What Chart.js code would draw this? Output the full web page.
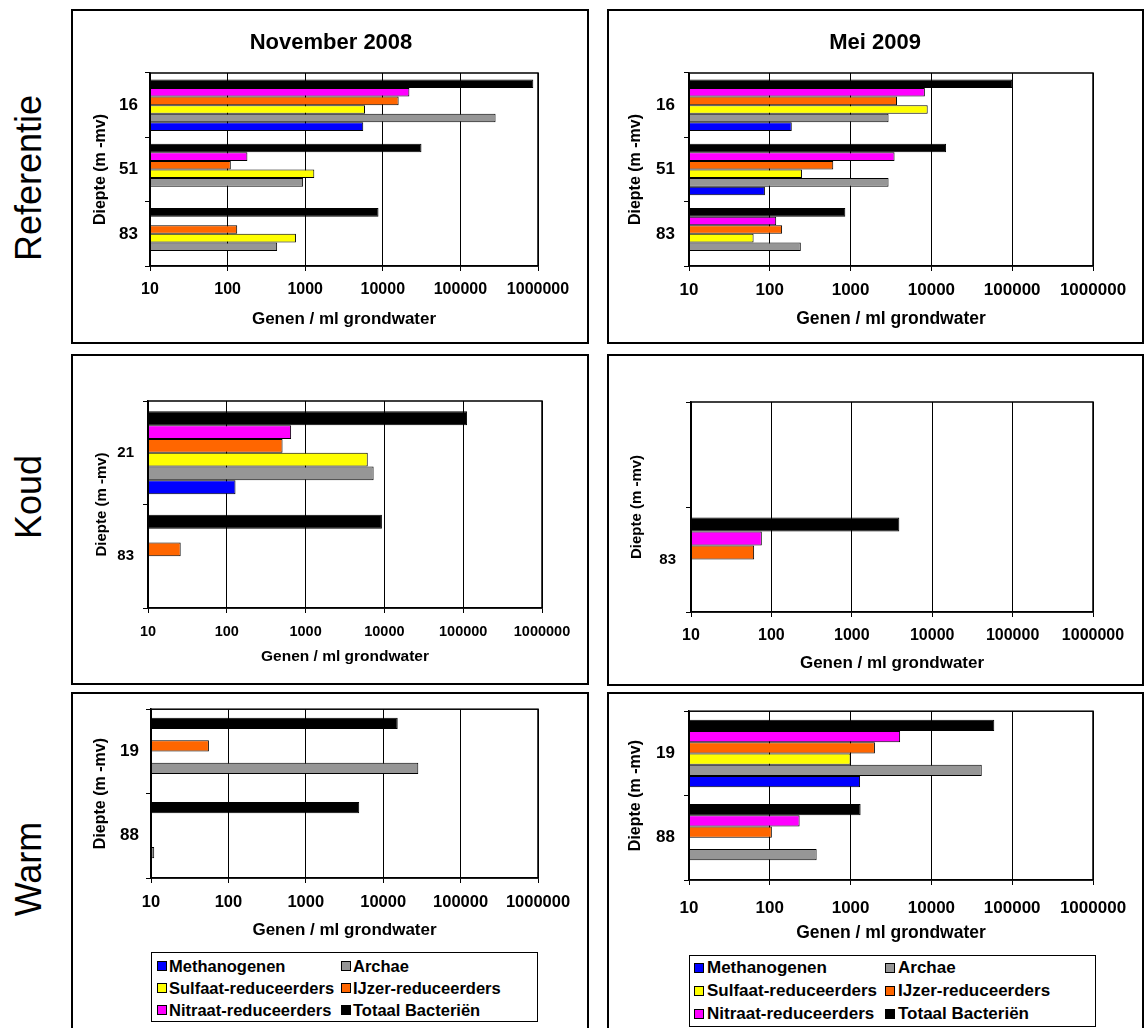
<!DOCTYPE html>
<html>
<head>
<meta charset="utf-8">
<script src="https://cdn.jsdelivr.net/npm/chart.js@4.4.1/dist/chart.umd.min.js"></script>
<style>
  html, body { margin: 0; padding: 0; background: #fff; }
  body { width: 1144px; height: 1028px; position: relative; overflow: hidden;
         font-family: "Liberation Sans", Arial, sans-serif; color: #000; }
  .frame { position: absolute; border: 2px solid #000; box-sizing: border-box; background: #fff; }
  canvas { position: absolute; }
  .title { position: absolute; font-weight: bold; font-size: 22px; white-space: nowrap;
           transform: translate(-50%, -50%); }
  .row { position: absolute; font-size: 36px; white-space: nowrap;
         transform: translate(-50%, -50%) rotate(-90deg); }
  .legend { position: absolute; border: 1px solid #000; box-sizing: border-box; background: #fff; }
  .item { position: absolute; font-weight: bold; white-space: nowrap; transform: translateY(-50%); }
  .sw { position: absolute; width: 10px; height: 10px; border: 1px solid #000; box-sizing: border-box;
        transform: translateY(-50%); }
</style>
</head>
<body>
<script>
// Series, in legend order
const seriesNames = ['Methanogenen', 'Archae', 'Sulfaat-reduceerders', 'IJzer-reduceerders', 'Nitraat-reduceerders', 'Totaal Bacteriën'];
const seriesColors = ['#0000FF', '#969696', '#FFFF00', '#FF6600', '#FF00FF', '#000000'];
const decadeTicks = [10, 100, 1000, 10000, 100000, 1000000];

// Genen / ml grondwater per diepte, values in legend order (null = not measured)
// Referentie, november 2008
const refNovDepths = ['16', '51', '83'];
const refNov16 = [5600, 284000, 5900, 16000, 22000, 870000];
const refNov51 = [null, 940, 1310, 110, 180, 31500];
const refNov83 = [null, 435, 760, 133, null, 8800];

// Referentie, mei 2009
const refMeiDepths = ['16', '51', '83'];
const refMei16 = [187, 2950, 9000, 3750, 8300, 100000];
const refMei51 = [87, 2950, 250, 610, 3500, 15200];
const refMei83 = [null, 242, 63, 142, 120, 860];

// Koud, november 2008
const koudNovDepths = ['21', '83'];
const koudNov21 = [129, 7300, 6150, 510, 655, 112000];
const koudNov83 = [null, null, null, 26, null, 9300];

// Koud, mei 2009
const koudMeiDepths = ['', '83'];
const koudMeiTop = [null, null, null, null, null, null];
const koudMei83 = [null, null, null, 61, 76, 3900];

// Warm, november 2008
const warmNovDepths = ['19', '88'];
const warmNov19 = [null, 28400, null, 56, null, 15400];
const warmNov88 = [null, 11, null, null, null, 4900];

// Warm, mei 2009
const warmMeiDepths = ['19', '88'];
const warmMei19 = [1310, 42000, 1000, 2000, 4100, 60000];
const warmMei88 = [null, 380, null, 106, 234, 1330];

const FONT = '"Liberation Sans", Arial, sans-serif';
Chart.defaults.font.family = FONT;
Chart.defaults.color = '#000';

// Outline of the plotting area (top and right edges included)
const plotFrame = {
  id: 'plotFrame',
  afterDraw(chart) {
    const { ctx, chartArea: a } = chart;
    ctx.save();
    ctx.strokeStyle = '#000';
    ctx.lineWidth = 1.5;
    ctx.strokeRect(a.left, a.top, a.right - a.left, a.bottom - a.top);
    ctx.restore();
  }
};

function el(tag, cls, css) {
  const e = document.createElement(tag);
  if (cls) e.className = cls;
  Object.assign(e.style, css || {});
  document.body.appendChild(e);
  return e;
}

function panel(p) {
  const w = p.box.r - p.box.l, h = p.box.b - p.box.t;
  el('div', 'frame', { left: p.box.l + 'px', top: p.box.t + 'px', width: w + 'px', height: h + 'px' });
  const cv = el('canvas', null, { left: p.box.l + 'px', top: p.box.t + 'px', width: w + 'px', height: h + 'px' });
  cv.width = w; cv.height = h;

  if (p.title) {
    const t = el('div', 'title', { left: p.titleX + 'px', top: p.titleY + 'px' });
    t.textContent = p.title;
  }

  const areaLeft = p.plot.l - p.box.l;
  const areaTop = p.plot.t - p.box.t;
  const areaRight = p.plot.r - p.box.l;
  const areaBottom = p.plot.b - p.box.t;
  const f = p.fonts;

  // bars from top to bottom: Totaal ... Methanogenen
  const order = [5, 4, 3, 2, 1, 0];
  const datasets = order.map(s => ({
    label: seriesNames[s],
    data: p.rows.map(r => r[s]),
    backgroundColor: seriesColors[s],
    borderColor: '#000',
    borderWidth: 1,
    borderSkipped: false,
    categoryPercentage: 0.8,
    barPercentage: 1.0
  }));

  new Chart(cv, {
    type: 'bar',
    data: { labels: p.depths, datasets },
    options: {
      indexAxis: 'y',
      responsive: false,
      animation: false,
      devicePixelRatio: 1,
      layout: { padding: { left: 0, top: areaTop, right: w - areaRight, bottom: 0 } },
      plugins: { legend: { display: false }, tooltip: { enabled: false } },
      scales: {
        x: {
          type: 'logarithmic',
          position: 'bottom',
          min: 10,
          max: 1000000,
          afterFit(s) { s.height = h - areaBottom; },
          afterBuildTicks(s) { s.ticks = decadeTicks.map(v => ({ value: v })); },
          ticks: {
            autoSkip: false, maxRotation: 0, minRotation: 0,
            padding: p.tickY - p.plot.b - 5 - f.tick * 0.6,
            color: '#000',
            font: { family: FONT, size: f.tick, weight: 'bold' },
            callback: v => String(v)
          },
          grid: { color: '#000', lineWidth: 1, tickLength: 5, drawTicks: true },
          border: { color: '#000', width: 1.5 },
          title: {
            display: true, text: 'Genen / ml grondwater', color: '#000',
            font: { family: FONT, size: f.axis, weight: 'bold' },
            padding: { top: 0, bottom: p.box.b - p.axisTitleY - f.axis * 0.6 }
          }
        },
        y: {
          type: 'category',
          afterFit(s) { s.width = areaLeft; },
          ticks: {
            padding: p.plot.l - p.catRight - 5,
            color: '#000',
            font: { family: FONT, size: f.cat, weight: 'bold' }
          },
          grid: { drawOnChartArea: false, offset: true, color: '#000', tickLength: 5 },
          border: { color: '#000', width: 1.5 },
          title: {
            display: true, text: 'Diepte (m -mv)', color: '#000',
            font: { family: FONT, size: f.ytitle, weight: 'bold' },
            padding: { top: p.yTitleX - p.box.l - f.ytitle * 0.6, bottom: 0 }
          }
        }
      }
    },
    plugins: [plotFrame]
  });
}

function legend(L) {
  el('div', 'legend', { left: L.box.l + 'px', top: L.box.t + 'px',
    width: (L.box.r - L.box.l) + 'px', height: (L.box.b - L.box.t) + 'px' });
  seriesNames.forEach((name, i) => {
    const col = i % 2, row = Math.floor(i / 2);
    el('div', 'sw', { left: L.swX[col] + 'px', top: L.rowY[row] + 'px', background: seriesColors[i] });
    const t = el('div', 'item', { left: L.txtX[col] + 'px', top: L.rowY[row] + 'px', fontSize: L.font + 'px' });
    t.textContent = name;
  });
}

function rowLabel(text, x, y) {
  const d = el('div', 'row', { left: x + 'px', top: y + 'px' });
  d.textContent = text;
}

rowLabel('Referentie', 29, 178);
rowLabel('Koud', 29, 497);
rowLabel('Warm', 29, 869);

panel({
  title: 'November 2008', titleX: 331, titleY: 42,
  box: { l: 71, t: 9, r: 589, b: 344 }, plot: { l: 150, t: 73, r: 538, b: 266 },
  tickY: 290, axisTitleY: 319, yTitleX: 101, catRight: 138,
  fonts: { tick: 16, axis: 17, cat: 17, ytitle: 16 },
  depths: refNovDepths, rows: [refNov16, refNov51, refNov83]
});
panel({
  title: 'Mei 2009', titleX: 875, titleY: 42,
  box: { l: 607, t: 9, r: 1144, b: 344 }, plot: { l: 689, t: 73, r: 1093, b: 266 },
  tickY: 290, axisTitleY: 319, yTitleX: 636, catRight: 675,
  fonts: { tick: 17, axis: 17.5, cat: 17, ytitle: 16 },
  depths: refMeiDepths, rows: [refMei16, refMei51, refMei83]
});
panel({
  box: { l: 71, t: 354, r: 589, b: 685 }, plot: { l: 148, t: 401, r: 542, b: 608 },
  tickY: 632, axisTitleY: 657, yTitleX: 102, catRight: 134,
  fonts: { tick: 14.5, axis: 15.5, cat: 15, ytitle: 15 },
  depths: koudNovDepths, rows: [koudNov21, koudNov83]
});
panel({
  box: { l: 607, t: 354, r: 1144, b: 686 }, plot: { l: 691, t: 402, r: 1093, b: 612 },
  tickY: 636, axisTitleY: 663, yTitleX: 637, catRight: 676,
  fonts: { tick: 16, axis: 17, cat: 15, ytitle: 15 },
  depths: koudMeiDepths, rows: [koudMeiTop, koudMei83]
});
panel({
  box: { l: 71, t: 692, r: 589, b: 1040 }, plot: { l: 151, t: 708, r: 538, b: 878 },
  tickY: 902, axisTitleY: 930, yTitleX: 101, catRight: 139,
  fonts: { tick: 16.5, axis: 17, cat: 17, ytitle: 16 },
  depths: warmNovDepths, rows: [warmNov19, warmNov88]
});
panel({
  box: { l: 607, t: 692, r: 1144, b: 1040 }, plot: { l: 689, t: 708, r: 1093, b: 880 },
  tickY: 908, axisTitleY: 933, yTitleX: 636, catRight: 675,
  fonts: { tick: 17, axis: 17.5, cat: 17, ytitle: 16 },
  depths: warmMeiDepths, rows: [warmMei19, warmMei88]
});

legend({ box: { l: 151, t: 952, r: 538, b: 1022 }, rowY: [966, 988, 1010],
         swX: [157, 341], txtX: [169, 353], font: 16.5 });
legend({ box: { l: 689, t: 955, r: 1096, b: 1027 }, rowY: [968, 991, 1014],
         swX: [694, 885], txtX: [707, 898], font: 17 });
</script>
</body>
</html>
